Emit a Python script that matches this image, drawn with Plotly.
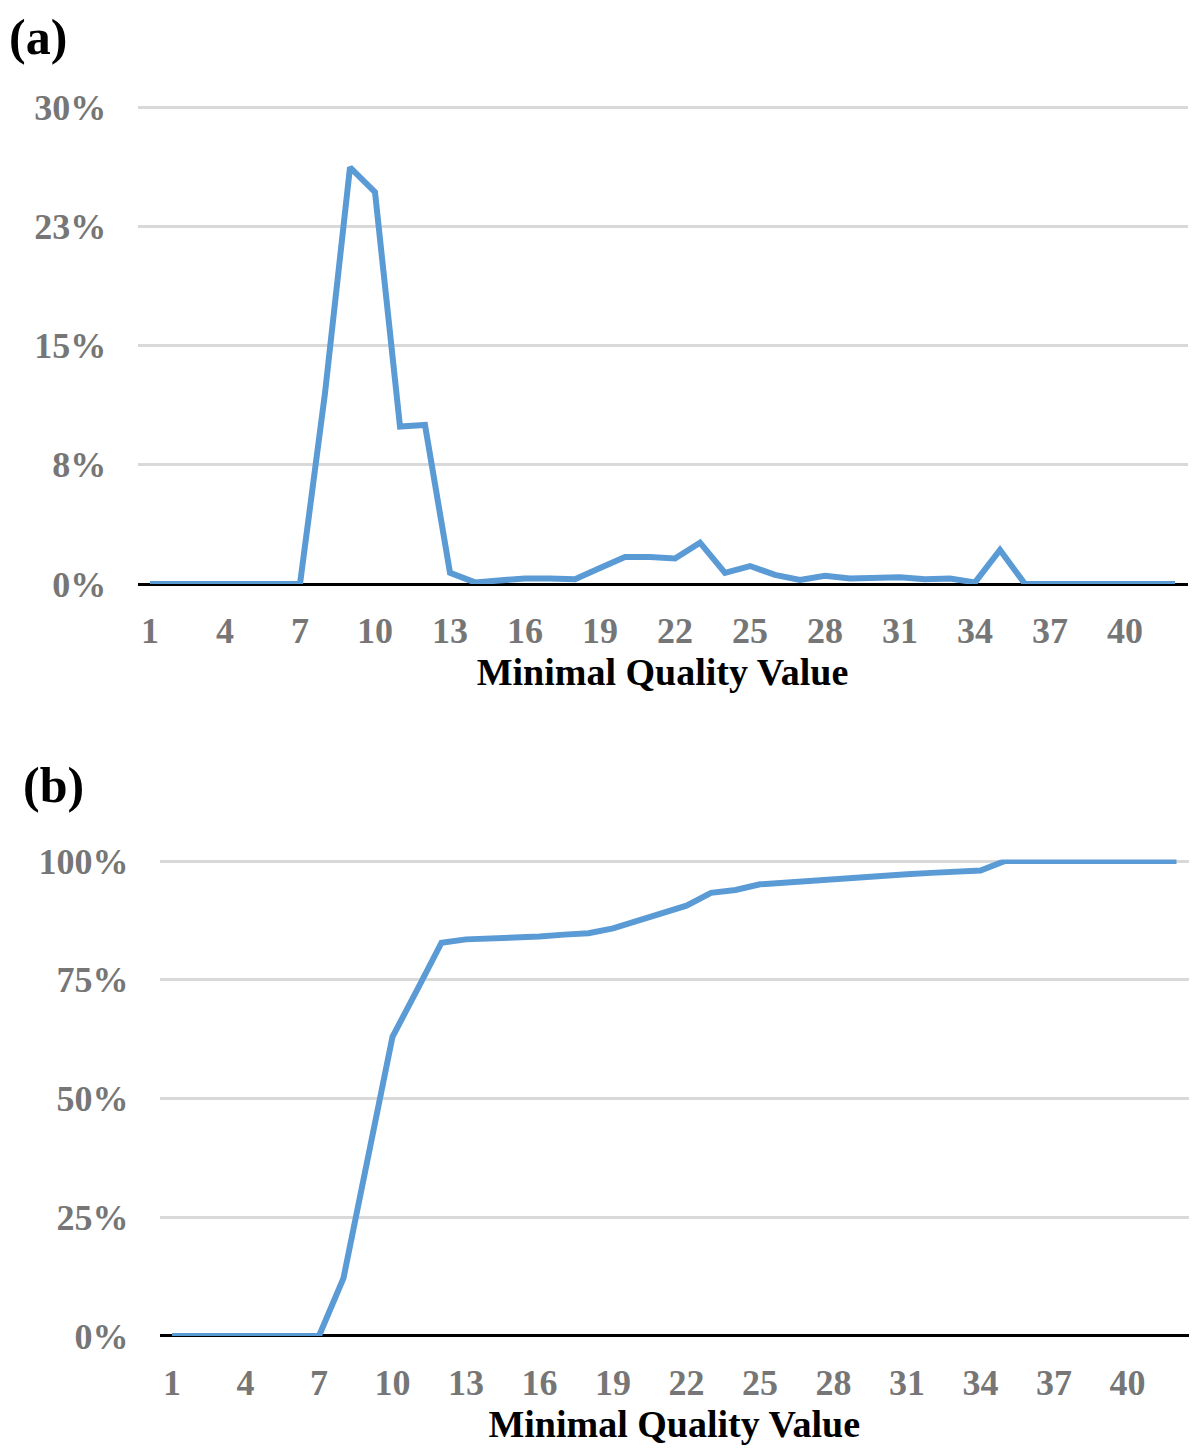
import plotly.graph_objects as go

# Minimal quality value categories 1..42
quality = list(range(1, 43))

# (a) share of reads per minimal quality value, in %
share_pct = [0, 0, 0, 0, 0, 0, 0, 12.0, 26.2, 24.65,
             9.9, 10.0, 0.7, 0.1, 0.2, 0.35, 0.35, 0.3, 1.0, 1.7,
             1.7, 1.6, 2.6, 0.7, 1.13, 0.57, 0.25, 0.52, 0.35, 0.35,
             0.42, 0.3, 0.35, 0.1, 2.14, 0, 0, 0, 0, 0,
             0, 0]

# (b) cumulative share, in %
cumulative_pct = [0, 0, 0, 0, 0, 0, 0, 12.2, 38.0, 63.0,
                  72.8, 82.8, 83.5, 83.6, 83.7, 84.1, 84.5, 84.8, 85.8, 87.5,
                  89.1, 90.6, 93.3, 93.9, 95.1, 95.5, 95.7, 96.1, 96.5, 96.8,
                  97.2, 97.5, 97.8, 98.0, 100, 100, 100, 100, 100, 100,
                  100, 100]

x_tickvals = list(range(1, 43, 3))
y_tickvals_a = [0, 7.5, 15, 22.5, 30]
y_ticktext_a = ["0%", "8%", "15%", "23%", "30%"]
y_tickvals_b = [0, 25, 50, 75, 100]
y_ticktext_b = ["0%", "25%", "50%", "75%", "100%"]

LINE_COLOR = "#5b9bd5"
GRID_COLOR = "#d9d9d9"
TICK_FONT = dict(family="Liberation Serif", size=36, color="#767676", weight="bold")
TITLE_FONT = dict(family="Liberation Serif", size=38, color="black")
LABEL_FONT = dict(family="Liberation Serif", size=50, color="black")

# the page body has an 8px margin, so the figure starts at (8, 8)
OFF = 8
W, H = 1200 - OFF, 1454 - OFF


def px(x):
    return (x - OFF) / W


def py(y):
    return 1 - (y - OFF) / H


fig = go.Figure()

fig.add_trace(go.Scatter(
    x=quality, y=share_pct, mode="lines",
    line=dict(color=LINE_COLOR, width=6),
    xaxis="x", yaxis="y", showlegend=False
))
fig.add_trace(go.Scatter(
    x=quality, y=cumulative_pct, mode="lines",
    line=dict(color=LINE_COLOR, width=6),
    xaxis="x2", yaxis="y2", showlegend=False
))


def x_axis(domain, anchor):
    return dict(
        domain=domain, anchor=anchor, automargin=False,
        range=[0.5, 42.5],
        tickmode="array", tickvals=x_tickvals,
        ticks="outside", ticklen=15, tickcolor="rgba(0,0,0,0)",
        tickfont=TICK_FONT,
        showgrid=False, zeroline=False, showline=False,
        title=dict(text="<b>Minimal Quality Value</b>", font=TITLE_FONT, standoff=0),
    )


def y_axis(domain, anchor, rng, vals, text):
    return dict(
        domain=domain, anchor=anchor, automargin=False,
        range=rng,
        tickmode="array", tickvals=vals, ticktext=text,
        ticks="outside", ticklen=23, tickcolor="rgba(0,0,0,0)",
        tickfont=TICK_FONT,
        showgrid=True, gridcolor=GRID_COLOR, gridwidth=3,
        zeroline=True, zerolinecolor="black", zerolinewidth=3,
        showline=False,
    )


# page pixel positions of the plot areas, top (a) and bottom (b)
a_top, a_bottom = 107 - 0.1 * 15.9, 584
b_top, b_bottom = 861 - 0.3 * 4.75, 1336

fig.update_layout(
    width=W, height=H,
    margin=dict(l=0, r=0, t=0, b=0),
    paper_bgcolor="white", plot_bgcolor="white",
    xaxis=x_axis([px(137.5), px(1187.5)], "y"),
    yaxis=y_axis([py(a_bottom), py(a_top)], "x", [0, 30.1], y_tickvals_a, y_ticktext_a),
    xaxis2=x_axis([px(159.75), px(1188.75)], "y2"),
    yaxis2=y_axis([py(b_bottom), py(b_top)], "x2", [0, 100.3], y_tickvals_b, y_ticktext_b),
    annotations=[
        dict(text="<b>(a)</b>", x=px(8), y=py(8), xref="paper", yref="paper",
             xanchor="left", yanchor="top", showarrow=False, borderpad=0,
             font=LABEL_FONT),
        dict(text="<b>(b)</b>", x=px(22), y=py(756), xref="paper", yref="paper",
             xanchor="left", yanchor="top", showarrow=False, borderpad=0,
             font=LABEL_FONT),
    ],
)

fig.write_html("out.html")
